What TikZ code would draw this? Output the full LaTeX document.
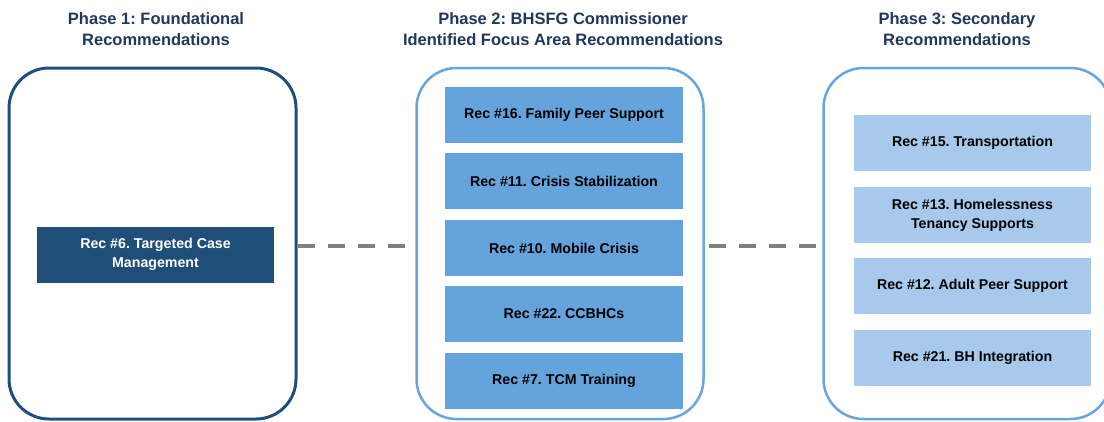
\documentclass[tikz,border=0pt]{standalone}
\usepackage{fontspec}
\setmainfont{Liberation Sans}
\usepackage{tikz}
\usetikzlibrary{positioning,backgrounds}
\definecolor{navy}{RGB}{31,78,121}
\definecolor{titleblue}{RGB}{31,56,92}
\definecolor{phaseblue}{RGB}{100,163,219}
\definecolor{lightblue}{RGB}{166,201,236}
\definecolor{frameblue}{RGB}{104,164,222}
\definecolor{dashgray}{RGB}{128,128,128}
\frenchspacing

\begin{document}
\begin{tikzpicture}[x=1pt,y=-1pt,
  phase/.style={align=center, font=\fontsize{16.5}{21}\selectfont\bfseries, text=titleblue},
  frame/.style={draw, rounded corners=40pt, inner sep=0pt, minimum width=287pt, minimum height=351pt, line width=2.5pt},
  rec/.style={inner sep=0pt, minimum width=237pt, minimum height=56pt, align=center, font=\fontsize{14.2}{19}\selectfont\bfseries},
  link/.style={draw, line width=3.5pt, color=dashgray, dash pattern=on 17pt off 13pt}]
\clip (0,0) rectangle (1104,421);
\node[phase] (T1) at (156,29) {Phase 1: Foundational\\Recommendations};
\node[phase] (T2) at (563,29) {Phase 2: BHSFG Commissioner\\Identified Focus Area Recommendations};
\node[phase] (T3) at (957,29) {Phase 3: Secondary\\Recommendations};
\node[frame, color=navy, line width=3pt] (P1) at (152.5,243.5) {};
\node[frame, color=frameblue] (P2) at (560,243.5) {};
\node[frame, color=frameblue] (P3) at (967,243.5) {};
\node[rec, fill=navy, text=white] (R6) at (155.5,254.5) {Rec \#6. Targeted Case\\Management};
\node[rec, fill=phaseblue, minimum width=238pt] (R16) at (564,114.5) {Rec \#16. Family Peer Support};
\node[rec, fill=phaseblue, minimum width=238pt] (R11) at (564,181) {Rec \#11. Crisis Stabilization};
\node[rec, fill=phaseblue, minimum width=238pt] (R10) at (564,248) {Rec \#10. Mobile Crisis};
\node[rec, fill=phaseblue, minimum width=238pt] (R22) at (564,314) {Rec \#22. CCBHCs};
\node[rec, fill=phaseblue, minimum width=238pt] (R7) at (564,381) {Rec \#7. TCM Training};
\node[rec, fill=lightblue] (R15) at (972.5,143) {Rec \#15. Transportation};
\node[rec, fill=lightblue] (R13) at (972.5,215) {Rec \#13. Homelessness\\Tenancy Supports};
\node[rec, fill=lightblue] (R12) at (972.5,286) {Rec \#12. Adult Peer Support};
\node[rec, fill=lightblue] (R21) at (972.5,358) {Rec \#21. BH Integration};
\begin{scope}[on background layer]
\path [link] (P1.east |- 0,246) -- ([xshift=-8pt]P2.west |- 0,246);
\path [link] ([xshift=4pt]P2.east |- 0,246) -- ([xshift=-5pt]P3.west |- 0,246);
\end{scope}
\end{tikzpicture}
\end{document}
